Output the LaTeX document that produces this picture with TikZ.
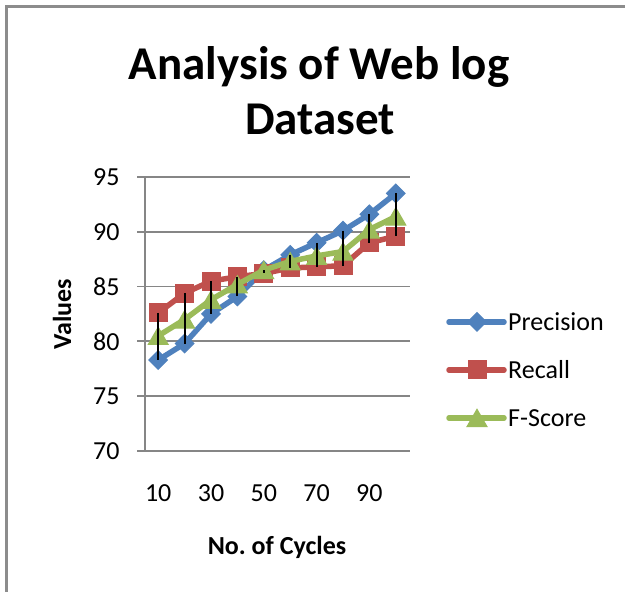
\documentclass[tikz,border=0pt]{standalone}
\usepackage{fontspec}
\setmainfont{Carlito}
\usetikzlibrary{shapes.geometric}
\frenchspacing

\definecolor{precblue}{HTML}{4F81BD}
\definecolor{recred}{HTML}{C0504D}
\definecolor{fgreen}{HTML}{9BBB59}
\definecolor{gridgray}{HTML}{868686}
\definecolor{framegray}{HTML}{8C8C8C}

\tikzset{
  series/.style={line width=5.5pt, line cap=round, line join=round},
  gridline/.style={draw=gridgray, line width=1.8pt},
  hilo/.style={draw=black, line width=2pt},
  diamark/.style={diamond, fill=precblue, draw=precblue, line width=1pt, inner sep=0pt, minimum width=19pt, minimum height=19pt},
  sqmark/.style={rectangle, fill=recred, draw=recred, line width=1pt, inner sep=0pt, minimum size=18pt},
  trimark/.style={regular polygon, regular polygon sides=3, fill=fgreen, draw=fgreen, line width=1pt, inner sep=0pt, minimum size=23pt, yshift=-2.8pt},
  ticklabel/.style={font=\fontsize{26}{31}\selectfont, inner sep=0pt},
  axistitle/.style={font=\fontsize{26}{31}\selectfont\bfseries, inner sep=0pt},
  titletext/.style={font=\fontsize{47}{56}\selectfont\bfseries, inner sep=0pt, anchor=base},
}

\begin{document}
\begin{tikzpicture}[x=1pt, y=1pt]
\useasboundingbox (0,0) rectangle (625,592);
\fill[white] (0,0) rectangle (625,592);

% chart frame (left and top edges)
\draw[framegray, line width=2.5pt] (6.5,-5) -- (6.5,585.5) -- (630,585.5);

% title
\node[titletext] (title1) at (319,512) {Analysis of Web log};
\node[titletext] (title2) at (320,457) {Dataset};

% axis titles
\node[axistitle, rotate=90] (ytitle) at (62,278) {Values};
\node[axistitle] (xtitle) at (277,45) {No. of Cycles};

% plot area: one unit in x per category, y in value units above 70
\begin{scope}[shift={(145,141)}, x=26.4pt, y=10.96pt]
  % horizontal grid lines with ticks and labels
  \foreach \v in {70,75,...,95} {
    \draw[gridline] (-0.3,\v-70) -- (10.05,\v-70);
    \node[ticklabel, anchor=east] (yl\v) at (-0.96,\v-70) {\v};
  }
  % vertical axis
  \draw[gridline] (0,0) -- (0,25);

  % category labels
  \foreach \c/\lab in {1/10,3/30,5/50,7/70,9/90}
    \node[ticklabel] (xl\lab) at (\c-0.5,-3.87) {\lab};

  % data points: precision / recall / f-score
  \foreach \i/\p/\r/\f in {
      1/78.3/82.6/80.5, 2/79.8/84.4/82.0, 3/82.5/85.5/83.8,
      4/84.1/85.9/85.2, 5/86.5/86.2/86.5, 6/87.9/86.7/87.3,
      7/89.0/86.8/87.8, 8/90.1/86.9/88.2, 9/91.6/89.0/90.2,
      10/93.5/89.6/91.4} {
    \coordinate (P\i) at ({\i-0.5},{\p-70});
    \coordinate (R\i) at ({\i-0.5},{\r-70});
    \coordinate (F\i) at ({\i-0.5},{\f-70});
    \pgfmathsetmacro{\hi}{max(\p,\r,\f)-70}
    \pgfmathsetmacro{\lo}{min(\p,\r,\f)-70}
    \coordinate (H\i) at ({\i-0.5},\hi);
    \coordinate (L\i) at ({\i-0.5},\lo);
  }

  % precision series
  \draw[series, precblue] (P1) \foreach \i in {2,...,10} { -- (P\i) };
  \foreach \i in {1,...,10} \node[diamark] (pm\i) at (P\i) {};
  % recall series
  \draw[series, recred] (R1) \foreach \i in {2,...,10} { -- (R\i) };
  \foreach \i in {1,...,10} \node[sqmark] (rm\i) at (R\i) {};
  % f-score series
  \draw[series, fgreen] (F1) \foreach \i in {2,...,10} { -- (F\i) };
  \foreach \i in {1,...,10} \node[trimark] (fm\i) at (F\i) {};

  % high-low lines
  \foreach \i in {1,...,10} \draw[hilo] (H\i) -- (L\i);
\end{scope}

% legend
\foreach \k/\yy/\name/\col/\mk in {
    1/270/Precision/precblue/diamark,
    2/222/Recall/recred/sqmark,
    3/174/F-Score/fgreen/trimark} {
  \coordinate (la\k) at (449,\yy);
  \coordinate (lb\k) at (504,\yy);
  \draw[series, \col] (la\k) -- (lb\k);
  \node[\mk] (lm\k) at (477,\yy) {};
  \node[ticklabel, anchor=west] (lt\k) at (508,\yy) {\name};
}
\end{tikzpicture}
\end{document}
